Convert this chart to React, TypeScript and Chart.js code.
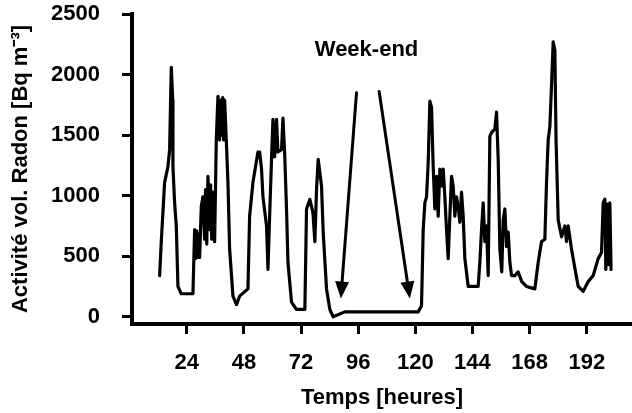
import React, { useEffect, useRef } from "react";
import { Chart, registerables } from "chart.js";

Chart.register(...registerables);

// Time in hours
const hours: number[] = [
  12.6, 13.3, 14.7, 16.1, 16.8, 17.5, 18.1, 18.2, 18.9, 19.6,
  20.3, 21.7, 26.6, 27.3, 27.7, 28.2, 28.6, 29.0, 29.4, 30.1,
  30.8, 31.5, 31.9, 32.4, 32.9, 33.6, 34.0, 34.5, 35.0, 35.7,
  36.4, 37.1, 37.8, 38.3, 38.7, 39.1, 39.5, 39.9, 40.6, 41.3,
  42.0, 43.4, 44.9, 46.2, 49.7, 50.4, 51.8, 53.9,
  54.6, 55.4, 56.0, 57.5, 58.1, 58.8, 59.6, 60.2, 60.9, 61.7,
  62.3, 63.8, 64.4, 65.1, 65.9, 66.5, 68.0, 70.1, 73.6, 74.3,
  75.7, 77.0, 77.8, 78.5, 79.2, 79.9, 80.6, 81.3, 82.7, 84.1,
  85.5, 90.4, 103.0, 121.2, 122.6,
  123.3, 124.0, 124.7, 125.4, 126.1, 126.8, 127.5, 128.2, 128.9, 129.6,
  130.3, 131.0, 131.7, 132.4, 133.1, 133.8, 134.5, 135.2, 135.9, 136.6,
  137.3, 138.0, 138.7, 139.4, 140.1, 140.8, 142.2, 146.4, 147.1, 147.8,
  148.5, 149.2, 149.9, 150.6, 151.3, 152.0, 153.4, 154.1, 154.8, 155.5,
  156.3, 156.9, 157.6, 158.3, 159.0, 159.7,
  160.4, 161.8, 163.2, 164.7, 166.7, 170.2, 171.6, 173.0, 174.4, 175.1,
  175.8, 176.5, 177.3, 177.9, 178.6, 179.1, 180.0, 181.4, 182.8, 183.5,
  184.2, 185.6, 187.1, 188.4, 190.5, 192.6, 194.7, 196.8, 198.2, 198.9,
  199.6, 200.0, 200.5, 200.9, 201.7, 202.2,
];

// Radon volumic activity [Bq m-3]
const radon: number[] = [
  340, 620, 1110, 1240, 1380, 2060, 1790, 1240, 940, 750,
  250, 190, 190, 720, 480, 710, 490, 680, 490, 910,
  990, 640, 1050, 600, 1160, 720, 1090, 640, 1030, 620,
  1460, 1820, 1460, 1790, 1500, 1810, 1460, 1790, 1460, 1110,
  560, 170, 100, 170, 230, 830, 1110, 1360,
  1360, 1220, 990, 750, 390, 830, 1300, 1630, 1320, 1630,
  1360, 1380, 1640, 1360, 890, 450, 120, 60, 60, 890,
  970, 860, 620, 1050, 1300, 1190, 1080, 700, 230, 60,
  0, 40, 40, 40, 90,
  720, 940, 990, 1270, 1780, 1730, 1240, 890, 1160, 830,
  1220, 1080, 1220, 990, 720, 480, 830, 1160, 1080, 830,
  990, 910, 780, 1030, 830, 480, 250, 250, 450, 720,
  940, 620, 750, 340, 1490, 1520, 1550, 1690, 1300, 560,
  370, 800, 890, 580, 700, 450,
  340, 340, 370, 290, 250, 230, 450, 620, 640, 1110,
  1460, 1570, 1960, 2270, 2200, 1460, 800, 660, 750, 620,
  750, 560, 390, 250, 210, 290, 340, 480, 530, 940,
  970, 390, 930, 430, 940, 390,
];

const xTicks: number[] = [24, 48, 72, 96, 120, 144, 168, 192];
const yTicks: number[] = [0, 500, 1000, 1500, 2000, 2500];

// "Week-end" annotation (data coordinates)
const weekendLabel = "Week-end";
const weekendLabelPos: number[] = [99.5, 2200];
const arrowFromX: number[] = [95.3, 104.8];
const arrowFromY: number[] = [1850, 1860];
const arrowToX: number[] = [88.7, 117.7];
const arrowToY: number[] = [150, 150];

const FONT = "'Liberation Sans', Arial, Helvetica, sans-serif";

const annotationPlugin = {
  id: "weekend",
  afterDatasetsDraw(chart: any) {
    const { ctx, scales } = chart;
    const xs = scales.x;
    const ys = scales.y;
    ctx.save();
    ctx.strokeStyle = "#000";
    ctx.fillStyle = "#000";
    ctx.lineWidth = 3;
    ctx.lineCap = "round";
    for (let i = 0; i < arrowFromX.length; i++) {
      const x1 = xs.getPixelForValue(arrowFromX[i]);
      const y1 = ys.getPixelForValue(arrowFromY[i]);
      const x2 = xs.getPixelForValue(arrowToX[i]);
      const y2 = ys.getPixelForValue(arrowToY[i]);
      const ang = Math.atan2(y2 - y1, x2 - x1);
      const headLen = 17;
      const headHalf = 7;
      const bx = x2 - headLen * Math.cos(ang);
      const by = y2 - headLen * Math.sin(ang);
      ctx.beginPath();
      ctx.moveTo(x1, y1);
      ctx.lineTo(bx, by);
      ctx.stroke();
      ctx.beginPath();
      ctx.moveTo(x2, y2);
      ctx.lineTo(bx + headHalf * Math.sin(ang), by - headHalf * Math.cos(ang));
      ctx.lineTo(bx - headHalf * Math.sin(ang), by + headHalf * Math.cos(ang));
      ctx.closePath();
      ctx.fill();
    }
    ctx.font = `bold 22px ${FONT}`;
    ctx.textAlign = "center";
    ctx.textBaseline = "middle";
    ctx.fillText(
      weekendLabel,
      xs.getPixelForValue(weekendLabelPos[0]),
      ys.getPixelForValue(weekendLabelPos[1])
    );
    ctx.restore();
  },
};

export default function App() {
  const canvasRef = useRef<HTMLCanvasElement | null>(null);

  useEffect(() => {
    if (!canvasRef.current) return;
    const chart = new Chart(canvasRef.current, {
      type: "line",
      data: {
        datasets: [
          {
            data: hours.map((h, i) => ({ x: h, y: radon[i] })),
            borderColor: "#000",
            borderWidth: 3.2,
            pointRadius: 0,
            tension: 0,
            fill: false,
            borderJoinStyle: "round",
            borderCapStyle: "round",
          },
        ],
      },
      options: {
        animation: false,
        responsive: false,
        devicePixelRatio: 1,
        layout: { padding: { top: 14, right: 0, left: 0, bottom: 0 } },
        plugins: {
          legend: { display: false },
          tooltip: { enabled: false },
        },
        scales: {
          x: {
            type: "linear",
            min: 1,
            max: 211,
            afterBuildTicks: (s: any) => {
              s.ticks = xTicks.map((v) => ({ value: v }));
            },
            afterFit: (s: any) => {
              s.height = 89;
              s.paddingLeft = 0;
              s.paddingRight = 0;
            },
            grid: {
              display: true,
              drawOnChartArea: false,
              drawTicks: true,
              tickLength: 10,
              tickWidth: 3,
              color: "#000",
            },
            border: { display: true, width: 4, color: "#000" },
            ticks: {
              color: "#000",
              font: { size: 22, weight: "bold", family: FONT },
              padding: 16,
              maxRotation: 0,
              autoSkip: false,
              callback: (v: any) => String(v),
            },
            title: {
              display: true,
              text: "Temps [heures]",
              color: "#000",
              font: { size: 22, weight: "bold", family: FONT },
              padding: { top: 0, bottom: 2 },
            },
          },
          y: {
            type: "linear",
            min: -60,
            max: 2500,
            afterBuildTicks: (s: any) => {
              s.ticks = yTicks.map((v) => ({ value: v }));
            },
            afterFit: (s: any) => {
              s.width = 132;
              s.paddingTop = 0;
              s.paddingBottom = 0;
            },
            grid: {
              display: true,
              drawOnChartArea: false,
              drawTicks: true,
              tickLength: 10,
              tickWidth: 3,
              color: "#000",
            },
            border: { display: true, width: 4, color: "#000" },
            ticks: {
              color: "#000",
              font: { size: 22, weight: "bold", family: FONT },
              padding: 22,
              callback: (v: any) => String(v),
            },
            title: {
              display: true,
              text: "Activité vol. Radon [Bq m⁻³]",
              color: "#000",
              font: { size: 22, weight: "bold", family: FONT },
              padding: { top: 8, bottom: 0 },
            },
          },
        },
      },
      plugins: [annotationPlugin],
    } as any);
    return () => chart.destroy();
  }, []);

  return (
    <div style={{ position: "absolute", left: 0, top: 0, width: 632, height: 413, background: "#fff" }}>
      <canvas ref={canvasRef} width={632} height={413} style={{ display: "block" }} />
    </div>
  );
}
